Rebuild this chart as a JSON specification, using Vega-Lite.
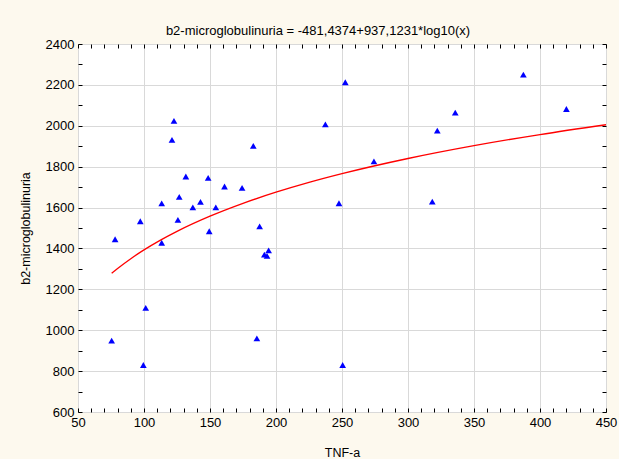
{
  "$schema": "https://vega.github.io/schema/vega-lite/v6.json",
  "width": 528,
  "height": 368,
  "autosize": {"type": "none"},
  "padding": {"left": 78, "top": 44, "right": 13, "bottom": 47},
  "background": "#FDF9EE",
  "view": {"fill": "white", "stroke": "black", "strokeWidth": 1},
  "title": {
    "text": "b2-microglobulinuria = -481,4374+937,1231*log10(x)",
    "font": "Liberation Sans",
    "fontSize": 13,
    "fontWeight": "normal",
    "color": "black",
    "anchor": "middle",
    "offset": 9,
    "dy": 9,
    "dx": -24
  },
  "config": {
    "axis": {
      "labelFont": "Liberation Sans",
      "labelFontSize": 13,
      "labelColor": "black",
      "titleFont": "Liberation Sans",
      "titleFontSize": 12.5,
      "titleFontWeight": "normal",
      "titleColor": "black",
      "domain": false,
      "tickColor": "black",
      "tickSize": -4,
      "gridColor": "#d9d9d9",
      "gridWidth": 1
    }
  },
  "datasets": {
    "points": [
      {"tnf": 75.5, "b2m": 949},
      {"tnf": 78.1, "b2m": 1445},
      {"tnf": 97.2, "b2m": 1533},
      {"tnf": 99.5, "b2m": 830},
      {"tnf": 101.3, "b2m": 1109},
      {"tnf": 113.4, "b2m": 1428},
      {"tnf": 113.4, "b2m": 1620},
      {"tnf": 121.2, "b2m": 1931},
      {"tnf": 122.7, "b2m": 2024},
      {"tnf": 125.7, "b2m": 1540},
      {"tnf": 126.7, "b2m": 1652},
      {"tnf": 131.7, "b2m": 1752},
      {"tnf": 137.0, "b2m": 1601},
      {"tnf": 142.8, "b2m": 1628},
      {"tnf": 148.6, "b2m": 1745},
      {"tnf": 149.4, "b2m": 1484},
      {"tnf": 154.4, "b2m": 1601},
      {"tnf": 161.0, "b2m": 1703},
      {"tnf": 174.3, "b2m": 1696},
      {"tnf": 182.8, "b2m": 1902},
      {"tnf": 185.5, "b2m": 960},
      {"tnf": 187.6, "b2m": 1508},
      {"tnf": 191.2, "b2m": 1370},
      {"tnf": 193.2, "b2m": 1364},
      {"tnf": 194.4, "b2m": 1391},
      {"tnf": 237.4, "b2m": 2007},
      {"tnf": 247.7, "b2m": 1621},
      {"tnf": 250.5, "b2m": 830},
      {"tnf": 252.5, "b2m": 2213},
      {"tnf": 274.2, "b2m": 1826},
      {"tnf": 318.4, "b2m": 1629},
      {"tnf": 322.2, "b2m": 1976},
      {"tnf": 335.8, "b2m": 2064},
      {"tnf": 387.4, "b2m": 2250},
      {"tnf": 420.0, "b2m": 2082}
    ],
    "curve": [
      {"tnf": 75.5, "b2m": 1278.4},
      {"tnf": 80, "b2m": 1302.0},
      {"tnf": 90, "b2m": 1349.9},
      {"tnf": 100, "b2m": 1392.8},
      {"tnf": 112.5, "b2m": 1440.7},
      {"tnf": 125, "b2m": 1483.6},
      {"tnf": 150, "b2m": 1557.8},
      {"tnf": 175, "b2m": 1620.6},
      {"tnf": 200, "b2m": 1674.9},
      {"tnf": 225, "b2m": 1722.9},
      {"tnf": 250, "b2m": 1765.7},
      {"tnf": 300, "b2m": 1839.9},
      {"tnf": 350, "b2m": 1902.7},
      {"tnf": 400, "b2m": 1957.0},
      {"tnf": 450, "b2m": 2005.0}
    ]
  },
  "layer": [
    {
      "data": {"name": "points"},
      "mark": {"type": "point", "shape": "triangle-up", "filled": true, "color": "#0000FF", "opacity": 1, "size": 45},
      "encoding": {
        "x": {
          "field": "tnf", "type": "quantitative",
          "scale": {"domain": [50, 450], "nice": false, "zero": false},
          "axis": {
            "title": "TNF-a",
            "values": [50,60,70,80,90,100,110,120,130,140,150,160,170,180,190,200,210,220,230,240,250,260,270,280,290,300,310,320,330,340,350,360,370,380,390,400,410,420,430,440,450],
            "labelExpr": "datum.value % 50 === 0 ? datum.label : ''",
            "gridOpacity": {"condition": {"test": "datum.value % 50 === 0", "value": 1}, "value": 0},
            "labelPadding": 8,
            "titlePadding": 17,
            "labelFlush": false
          }
        },
        "y": {
          "field": "b2m", "type": "quantitative",
          "scale": {"domain": [600, 2400], "nice": false, "zero": false},
          "axis": {
            "title": "b2-microglobulinuria",
            "values": [600,700,800,900,1000,1100,1200,1300,1400,1500,1600,1700,1800,1900,2000,2100,2200,2300,2400],
            "labelExpr": "datum.value % 200 === 0 ? datum.label : ''",
            "format": "d",
            "gridOpacity": {"condition": {"test": "datum.value % 200 === 0", "value": 1}, "value": 0},
            "labelPadding": 8,
            "titlePadding": 13,
            "labelFlush": false
          }
        }
      }
    },
    {
      "data": {"name": "curve"},
      "mark": {"type": "line", "color": "#FF0000", "strokeWidth": 1.3, "interpolate": "monotone"},
      "encoding": {
        "x": {
          "field": "tnf", "type": "quantitative",
          "axis": {
            "orient": "top", "title": null, "labels": false, "grid": false,
            "values": [50,60,70,80,90,100,110,120,130,140,150,160,170,180,190,200,210,220,230,240,250,260,270,280,290,300,310,320,330,340,350,360,370,380,390,400,410,420,430,440,450]
          }
        },
        "y": {
          "field": "b2m", "type": "quantitative",
          "axis": {
            "orient": "right", "title": null, "labels": false, "grid": false,
            "values": [600,700,800,900,1000,1100,1200,1300,1400,1500,1600,1700,1800,1900,2000,2100,2200,2300,2400]
          }
        }
      }
    }
  ],
  "resolve": {"axis": {"x": "independent", "y": "independent"}}
}
